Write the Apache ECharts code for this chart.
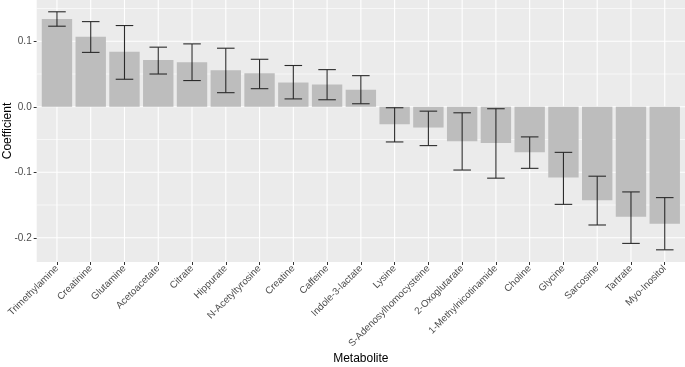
<!DOCTYPE html>
<html>
<head>
<meta charset="utf-8">
<script src="https://cdn.jsdelivr.net/npm/echarts@6/dist/echarts.min.js"></script>
<style>
  html, body { margin: 0; padding: 0; background: #fff; }
  #chart { width: 685px; height: 367px; }
</style>
</head>
<body>
<div id="chart"></div>
<script type="text/javascript">
// metabolites, ordered as in the plot
var categories = ['Trimethylamine', 'Creatinine', 'Glutamine', 'Acetoacetate', 'Citrate', 'Hippurate',
  'N-Acetyltyrosine', 'Creatine', 'Caffeine', 'Indole-3-lactate', 'Lysine', 'S-Adenosylhomocysteine',
  '2-Oxoglutarate', '1-Methylnicotinamide', 'Choline', 'Glycine', 'Sarcosine', 'Tartrate', 'Myo-Inositol'];
var coef = [0.134, 0.107, 0.084, 0.0715, 0.068, 0.0557, 0.051, 0.037, 0.034, 0.026,
  -0.0267, -0.0317, -0.0527, -0.0552, -0.0696, -0.108, -0.1427, -0.168, -0.1785];
var lower = [0.123, 0.083, 0.042, 0.050, 0.040, 0.0215, 0.0276, 0.012, 0.0107, 0.0046,
  -0.0537, -0.0593, -0.0966, -0.109, -0.094, -0.149, -0.1805, -0.2086, -0.2184];
var upper = [0.145, 0.130, 0.124, 0.091, 0.096, 0.0894, 0.0725, 0.063, 0.0567, 0.0475,
  -0.0015, -0.0067, -0.0092, -0.003, -0.046, -0.0696, -0.106, -0.130, -0.1387];
var yTicks = [-0.2, -0.1, 0.0, 0.1];
var yMinor = [-0.15, -0.05, 0.05, 0.15];

var xPos = categories.map(function (c, i) { return i + 1; });

var chart = echarts.init(document.getElementById('chart'));

// white grid lines drawn on the panel, like ggplot
function vLine(params, api) {
  var cs = params.coordSys;
  var p = api.coord([api.value(0), 0]);
  return { type: 'line', shape: { x1: p[0], y1: cs.y, x2: p[0], y2: cs.y + cs.height },
    style: { stroke: '#ffffff', lineWidth: 1.1 } };
}
function hLine(width) {
  return function (params, api) {
    var cs = params.coordSys;
    var p = api.coord([1, api.value(1)]);
    return { type: 'line', shape: { x1: cs.x, y1: p[1], x2: cs.x + cs.width, y2: p[1] },
      style: { stroke: '#ffffff', lineWidth: width } };
  };
}

var option = {
  animation: false,
  grid: { left: 36.7, right: 0, top: 0, bottom: 105, containLabel: false, outerBoundsMode: 'none',
    show: true, backgroundColor: '#ebebeb', borderWidth: 0 },
  xAxis: {
    type: 'value', min: 0.4, max: 19.6,
    name: 'Metabolite', nameLocation: 'middle', nameGap: 91, nameMoveOverlap: false,
    nameTextStyle: { color: '#000', fontSize: 12, fontFamily: 'Liberation Sans' },
    axisLine: { show: false, onZero: false },
    axisTick: { show: true, customValues: xPos, length: 3, lineStyle: { color: '#333', width: 1 } },
    axisLabel: { customValues: xPos, rotate: 45, margin: 5, color: '#4d4d4d', fontSize: 9.8,
      fontFamily: 'Liberation Sans',
      formatter: function (v) { return categories[Math.round(v) - 1]; } },
    splitLine: { show: false }
  },
  yAxis: {
    type: 'value', min: -0.237, max: 0.163,
    name: 'Coefficient', nameLocation: 'middle', nameGap: 23, nameMoveOverlap: false,
    nameTextStyle: { color: '#000', fontSize: 12, fontFamily: 'Liberation Sans' },
    axisLine: { show: false, onZero: false },
    axisTick: { show: true, customValues: yTicks, length: 3, lineStyle: { color: '#333', width: 1 } },
    axisLabel: { customValues: yTicks, margin: 5, color: '#4d4d4d', fontSize: 10,
      fontFamily: 'Liberation Sans',
      formatter: function (v) { return v.toFixed(1); } },
    splitLine: { show: false }
  },
  series: [
    { type: 'custom', z: 1, silent: true, clip: false, renderItem: hLine(0.6),
      data: yMinor.map(function (v) { return [1, v]; }) },
    { type: 'custom', z: 1, silent: true, clip: false, renderItem: hLine(1.1),
      data: yTicks.map(function (v) { return [1, v]; }) },
    { type: 'custom', z: 1, silent: true, clip: false, renderItem: vLine,
      data: xPos.map(function (x) { return [x, 0]; }) },
    {
      type: 'bar', z: 2, barWidth: '90%',
      itemStyle: { color: '#bdbdbd' },
      data: coef.map(function (v, i) { return [i + 1, v]; })
    },
    {
      type: 'custom', z: 3, clip: false,
      data: coef.map(function (v, i) { return [i + 1, lower[i], upper[i]]; }),
      renderItem: function (params, api) {
        var lo = api.coord([api.value(0), api.value(1)]);
        var hi = api.coord([api.value(0), api.value(2)]);
        var half = api.size([1, 0])[0] * 0.26;
        var st = { stroke: '#2b2b2b', lineWidth: 1.1 };
        return { type: 'group', children: [
          { type: 'line', shape: { x1: lo[0], y1: lo[1], x2: hi[0], y2: hi[1] }, style: st },
          { type: 'line', shape: { x1: lo[0] - half, y1: lo[1], x2: lo[0] + half, y2: lo[1] }, style: st },
          { type: 'line', shape: { x1: hi[0] - half, y1: hi[1], x2: hi[0] + half, y2: hi[1] }, style: st }
        ] };
      }
    }
  ]
};
chart.setOption(option);
</script>
</body>
</html>
